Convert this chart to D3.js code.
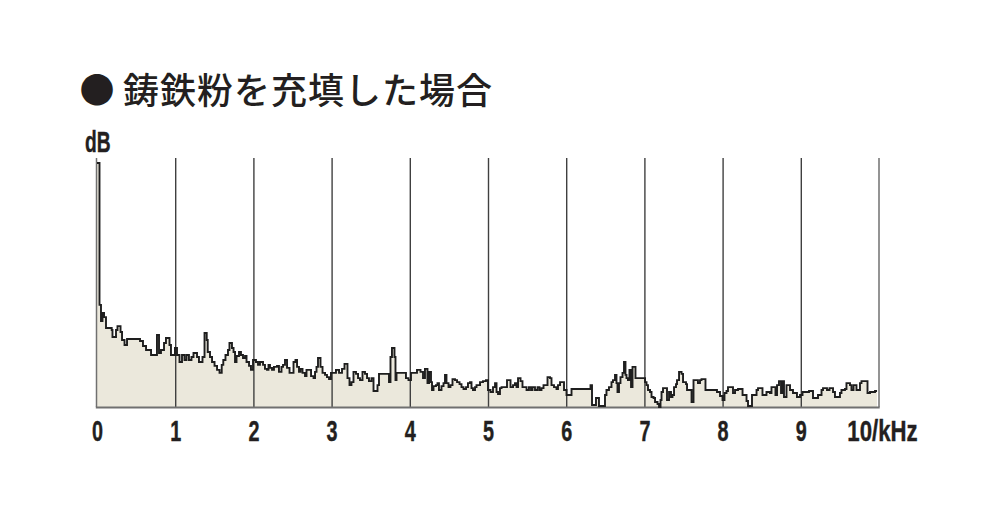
<!DOCTYPE html>
<html><head><meta charset="utf-8">
<script src="https://cdn.jsdelivr.net/npm/d3@7"></script>
<style>body{margin:0;background:#fff} svg{display:block}</style>
</head><body><svg id="c" width="1000" height="516"></svg>
<script>
// ---- data (frequency in kHz where the step starts, level in dB above floor) ----
const freqKHz = [
0.000,0.032,0.051,0.070,0.090,0.115,0.188,0.198,0.243,0.262,0.301,0.320,0.352,0.384,0.550,0.588,0.627,0.691,0.767,0.793,
0.818,0.857,0.882,0.927,0.946,0.997,1.023,1.055,1.087,1.119,1.145,1.176,1.208,1.234,1.279,1.304,1.349,1.375,1.403,1.416,
1.445,1.471,1.503,1.535,1.567,1.595,1.615,1.643,1.675,1.694,1.726,1.746,1.765,1.784,1.816,1.841,1.867,1.893,1.912,1.944,
1.969,1.995,2.033,2.059,2.084,2.123,2.148,2.174,2.193,2.212,2.238,2.263,2.302,2.327,2.359,2.379,2.404,2.430,2.462,2.513,
2.538,2.558,2.583,2.602,2.628,2.660,2.679,2.737,2.769,2.788,2.807,2.826,2.858,2.884,2.916,2.941,2.967,2.992,3.056,3.095,
3.133,3.165,3.203,3.229,3.254,3.280,3.312,3.338,3.363,3.395,3.427,3.453,3.478,3.510,3.536,3.587,3.606,3.734,3.753,3.772,
3.804,3.817,3.830,3.951,3.983,4.015,4.054,4.092,4.137,4.169,4.194,4.226,4.246,4.271,4.284,4.303,4.335,4.354,4.373,4.405,
4.431,4.450,4.469,4.495,4.520,4.546,4.578,4.604,4.636,4.661,4.687,4.719,4.744,4.770,4.789,4.808,4.834,4.853,4.898,4.936,
4.974,5.000,5.032,5.064,5.090,5.109,5.128,5.153,5.173,5.243,5.288,5.320,5.345,5.365,5.384,5.416,5.441,5.493,5.524,5.550,
5.569,5.601,5.633,5.659,5.684,5.710,5.761,5.793,5.812,5.844,5.876,5.895,5.921,5.972,6.004,6.068,6.311,6.330,6.381,6.419,
6.496,6.515,6.547,6.579,6.598,6.624,6.643,6.656,6.675,6.694,6.720,6.739,6.758,6.771,6.790,6.809,6.829,6.848,6.886,7.008,
7.027,7.046,7.072,7.091,7.117,7.136,7.168,7.187,7.206,7.219,7.238,7.289,7.315,7.340,7.359,7.379,7.404,7.417,7.443,7.475,
7.494,7.532,7.545,7.603,7.628,7.685,7.711,7.730,7.781,7.928,7.967,7.999,8.024,8.050,8.069,8.133,8.159,8.197,8.255,8.306,
8.325,8.376,8.434,8.453,8.510,8.561,8.606,8.625,8.676,8.696,8.721,8.747,8.766,8.785,8.817,8.862,8.900,8.951,8.990,9.022,
9.105,9.156,9.220,9.265,9.284,9.335,9.367,9.412,9.437,9.501,9.520,9.565,9.584,9.629,9.648,9.674,9.712,9.757,9.776,9.853,
9.885,9.949,9.975
];
const levelDB = [
98.0,41.0,34.5,37.8,36.1,31.7,30.9,28.1,30.9,32.5,30.1,26.9,24.9,27.3,26.5,24.5,22.9,20.9,28.9,21.7,
22.9,25.7,27.7,24.9,20.9,23.7,20.9,18.1,20.9,18.9,20.9,18.9,20.1,21.7,20.1,18.1,20.1,29.7,26.9,22.1,
20.1,18.1,16.5,14.9,13.7,16.9,18.9,20.9,22.9,25.7,23.7,22.1,18.1,20.5,22.1,20.9,19.7,20.5,18.1,16.5,
14.9,18.9,18.1,16.9,18.1,16.9,15.3,14.9,16.9,15.7,14.9,16.1,16.5,14.1,16.1,16.9,18.9,15.7,13.7,18.1,
18.9,16.1,14.1,15.3,13.7,12.4,14.9,12.4,11.6,14.1,16.1,19.7,16.1,13.7,12.9,12.0,11.2,13.7,14.9,13.7,
15.3,17.3,11.6,8.8,10.0,14.1,13.3,11.6,10.8,14.1,13.3,11.6,10.4,11.6,6.4,8.8,13.3,10.0,20.1,23.7,
20.1,10.8,13.7,11.6,10.8,13.7,13.7,14.9,14.1,11.6,15.3,9.6,14.1,10.0,6.8,8.4,8.8,9.6,6.8,8.4,
9.6,12.9,9.6,8.0,8.8,11.2,10.8,10.0,9.2,8.0,7.2,8.0,9.6,10.0,7.6,6.8,8.0,8.8,10.0,10.4,
10.8,6.8,6.0,8.0,9.6,6.0,5.2,7.6,8.0,10.8,8.0,8.8,9.6,8.0,11.6,10.4,8.0,6.8,8.0,6.8,
8.0,6.8,8.0,6.8,7.6,8.8,12.0,11.6,8.8,8.0,7.2,8.8,10.0,6.8,4.8,7.2,8.8,0.8,3.6,0.4,
4.8,6.8,8.0,10.0,10.8,12.9,9.6,6.0,9.6,12.0,13.7,18.1,12.9,11.6,10.8,14.9,8.0,16.1,11.6,10.0,
8.8,6.8,6.0,4.0,3.6,2.0,1.2,0.0,2.8,6.0,7.6,2.8,6.0,4.0,4.8,8.0,9.2,10.8,14.1,13.3,
10.0,9.2,6.8,2.0,10.8,9.6,10.8,11.2,6.8,6.0,4.4,2.8,5.6,6.4,8.0,5.6,6.8,7.2,4.8,2.4,
0.4,4.8,6.8,7.6,4.8,6.0,5.6,8.0,4.8,8.8,10.4,5.6,10.4,4.0,8.8,6.8,5.6,4.0,4.8,6.0,
6.4,3.6,4.8,6.8,7.6,6.8,7.6,6.0,4.0,5.6,6.8,7.2,9.6,8.8,6.8,8.8,6.8,9.6,10.4,5.6,
6.0,6.4,6.4
];
const tickValues = [0,1,2,3,4,5,6,7,8,9,10];
const tickLabels = ["0","1","2","3","4","5","6","7","8","9","10/kHz"];
const titleMark = "●";
const titleText = "鋳鉄粉を充填した場合";
const yUnit = "dB";

// ---- drawing ----
const svg = d3.select("#c");
const x = d3.scaleLinear().domain([0, 10]).range([97, 879]);
const y = d3.scaleLinear().domain([0, 100]).range([407, 158]);
const data = freqKHz.map((f, i) => ({f, v: levelDB[i]}));
const condensed = "'Liberation Sans', Arial, sans-serif";
const ink = "#231f20";

// filled spectrum
svg.append("path").datum(data)
  .attr("d", d3.area().x(d => x(d.f)).y0(y(0)).y1(d => y(d.v)).curve(d3.curveStepAfter))
  .attr("fill", "#ebe8dc");

// vertical grid lines at 1..9 kHz
const grid = svg.append("g").attr("transform", `translate(0,${y(0)})`)
  .call(d3.axisBottom(x).tickValues(tickValues.slice(1, 10)).tickSize(-(y(0) - y(100))).tickFormat(""));
grid.select(".domain").remove();
grid.selectAll("line").attr("stroke", "#404040").attr("stroke-width", 1.4);

// frame: left, right
const frame = svg.append("g").attr("stroke", "#707070").attr("fill", "none");
frame.append("line").attr("x1", x(0) - 0.5).attr("x2", x(0) - 0.5).attr("y1", y(100)).attr("y2", y(0)).attr("stroke-width", 1.5);
frame.append("line").attr("x1", x(10)).attr("x2", x(10)).attr("y1", y(100)).attr("y2", y(0)).attr("stroke-width", 1.5);

// spectrum outline
svg.append("path").datum(data)
  .attr("d", d3.line().x(d => x(d.f)).y(d => y(d.v)).curve(d3.curveStepAfter))
  .attr("fill", "none").attr("stroke", "#1e1e1e").attr("stroke-width", 1.9);

// baseline
frame.append("line").attr("x1", x(0) - 1.2).attr("x2", x(10) + 0.7).attr("y1", y(0) + 0.5).attr("y2", y(0) + 0.5).attr("stroke-width", 2);

// x axis labels
const xa = svg.append("g").attr("transform", `translate(0,${y(0)})`)
  .call(d3.axisBottom(x).tickValues(tickValues).tickSize(0).tickFormat((d, i) => tickLabels[i]));
xa.select(".domain").remove();
xa.selectAll("text")
  .attr("y", 34).attr("dy", 0)
  .attr("transform", (d, i) => i === tickValues.length - 1 ? "translate(3,0) scale(0.74,1)" : "scale(0.66,1)")
  .attr("font-family", condensed).attr("font-weight", "bold").attr("font-size", 30)
  .attr("fill", ink).attr("stroke", ink).attr("stroke-width", 0.4);

// y unit
svg.append("text").text(yUnit)
  .attr("transform", "translate(85,152) scale(0.64,1)")
  .attr("font-family", condensed).attr("font-weight", "bold").attr("font-size", 30)
  .attr("fill", ink).attr("stroke", ink).attr("stroke-width", 0.4);

// title
svg.append("text").text(titleMark)
  .attr("x", 97).attr("y", 103).attr("text-anchor", "middle")
  .attr("font-family", "'Noto Sans CJK JP', sans-serif").attr("font-size", 35)
  .attr("fill", ink);
svg.append("text").text(titleText)
  .attr("x", 123).attr("y", 104)
  .attr("font-family", "'Noto Sans CJK JP', sans-serif").attr("font-weight", 500).attr("font-size", 36)
  .attr("letter-spacing", 1)
  .attr("fill", ink);
</script></body></html>
